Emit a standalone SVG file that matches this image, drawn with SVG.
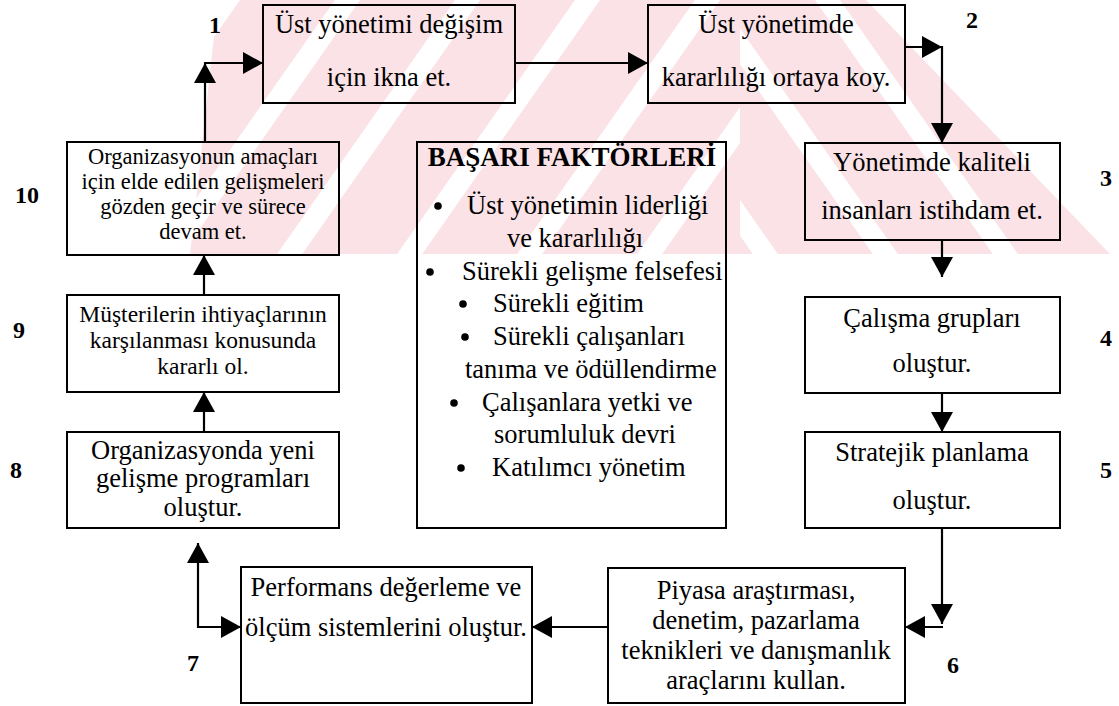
<svg xmlns="http://www.w3.org/2000/svg" width="1119" height="706" viewBox="0 0 1119 706">
  <defs>
    <style>
      .box{fill:none;stroke:#000;stroke-width:2}
      .t{font-family:"Liberation Serif","Times New Roman",serif;font-size:26.5px;fill:#000;text-anchor:middle}
      .ts{font-family:"Liberation Serif","Times New Roman",serif;font-size:23.5px;fill:#000;text-anchor:middle}
      .tx{font-family:"Liberation Serif","Times New Roman",serif;font-size:22.5px;fill:#000;text-anchor:middle}
      .tl{font-family:"Liberation Serif","Times New Roman",serif;font-size:26.5px;fill:#000}
      .hd{font-family:"Liberation Serif","Times New Roman",serif;font-size:27px;font-weight:bold;fill:#000;text-anchor:middle}
      .num{font-family:"Liberation Serif","Times New Roman",serif;font-size:24px;font-weight:bold;fill:#000;text-anchor:middle}
      .ln{fill:none;stroke:#000;stroke-width:2.2;marker-end:url(#ah)}
      .dot{fill:#000}
    </style>
    <marker id="ah" markerUnits="userSpaceOnUse" markerWidth="20" markerHeight="22" refX="20" refY="11" orient="auto" viewBox="0 0 20 22">
      <path d="M0,0 L20,11 L0,22 Z" fill="#000"/>
    </marker>
    <pattern id="wmL" patternUnits="userSpaceOnUse" width="120" height="20" patternTransform="skewX(-35)">
      <rect width="95" height="20" fill="#fbe2e6"/>
    </pattern>
    <pattern id="wmR" patternUnits="userSpaceOnUse" width="120" height="20" patternTransform="skewX(35)">
      <rect width="95" height="20" fill="#fbe2e6"/>
    </pattern>
  </defs>

  <rect width="1119" height="706" fill="#fff"/>

  <!-- faint striped background band -->
  <g id="watermark">
    <polygon points="218,0 740,0 740,254 190,254" fill="url(#wmL)"/>
    <polygon points="740,0 866,0 1110,254 740,254" fill="url(#wmR)"/>
  </g>

  <g id="connectors">
    <path class="ln" d="M205,142 V63"/>
    <path class="ln" d="M204,63 H263"/>
    <path class="ln" d="M515,63 H648"/>
    <path class="ln" d="M905,47 H942"/>
    <path class="ln" d="M942,46 V143"/>
    <path class="ln" d="M942,240 V277"/>
    <path class="ln" d="M942,393 V432"/>
    <path class="ln" d="M942,528 V624"/>
    <path class="ln" d="M943,627 H905"/>
    <path class="ln" d="M608,627 H532"/>
    <path class="ln" d="M198,628 V543"/>
    <path class="ln" d="M197,627 H241"/>
    <path class="ln" d="M204,432 V392"/>
    <path class="ln" d="M204,295 V255"/>
  </g>

  <g id="step1">
    <rect class="box" x="263" y="5" width="252" height="98"/>
    <text class="t" x="389" y="33">Üst yönetimi değişim</text>
    <text class="t" x="389" y="86">için ikna et.</text>
    <text class="num" x="215" y="33">1</text>
  </g>

  <g id="step2">
    <rect class="box" x="648" y="5" width="257" height="98"/>
    <text class="t" x="776" y="33">Üst yönetimde</text>
    <text class="t" x="776" y="86">kararlılığı ortaya koy.</text>
    <text class="num" x="972" y="28">2</text>
  </g>

  <g id="step3">
    <rect class="box" x="805" y="143" width="255" height="97"/>
    <text class="t" x="932" y="171">Yönetimde kaliteli</text>
    <text class="t" x="932" y="219">insanları istihdam et.</text>
    <text class="num" x="1106" y="186">3</text>
  </g>

  <g id="step4">
    <rect class="box" x="805" y="297" width="255" height="96"/>
    <text class="t" x="932" y="327">Çalışma grupları</text>
    <text class="t" x="932" y="372">oluştur.</text>
    <text class="num" x="1106" y="346">4</text>
  </g>

  <g id="step5">
    <rect class="box" x="805" y="432" width="255" height="96"/>
    <text class="t" x="932" y="461">Stratejik planlama</text>
    <text class="t" x="932" y="509">oluştur.</text>
    <text class="num" x="1106" y="478">5</text>
  </g>

  <g id="step6">
    <rect class="box" x="608" y="568" width="297" height="135"/>
    <text class="t" x="756" y="599">Piyasa araştırması,</text>
    <text class="t" x="756" y="629">denetim, pazarlama</text>
    <text class="t" x="756" y="659">teknikleri ve danışmanlık</text>
    <text class="t" x="756" y="689">araçlarını kullan.</text>
    <text class="num" x="953" y="673">6</text>
  </g>

  <g id="step7">
    <rect class="box" x="241" y="567" width="291" height="136"/>
    <text class="t" x="386" y="596">Performans değerleme ve</text>
    <text class="t" x="386" y="636">ölçüm sistemlerini oluştur.</text>
    <text class="num" x="193" y="671">7</text>
  </g>

  <g id="step8">
    <rect class="box" x="67" y="432" width="272" height="96"/>
    <text class="t" x="203" y="459">Organizasyonda yeni</text>
    <text class="t" x="203" y="487">gelişme programları</text>
    <text class="t" x="203" y="516">oluştur.</text>
    <text class="num" x="16" y="478">8</text>
  </g>

  <g id="step9">
    <rect class="box" x="67" y="295" width="272" height="97"/>
    <text class="ts" x="203" y="322">Müşterilerin ihtiyaçlarının</text>
    <text class="ts" x="203" y="348">karşılanması konusunda</text>
    <text class="ts" x="203" y="374">kararlı ol.</text>
    <text class="num" x="19" y="338">9</text>
  </g>

  <g id="step10">
    <rect class="box" x="67" y="142" width="272" height="113"/>
    <text class="tx" x="203" y="164">Organizasyonun amaçları</text>
    <text class="tx" x="203" y="189">için elde edilen gelişmeleri</text>
    <text class="tx" x="203" y="214">gözden geçir ve sürece</text>
    <text class="tx" x="203" y="239">devam et.</text>
    <text class="num" x="27" y="203">10</text>
  </g>

  <g id="success-factors">
    <rect class="box" x="417" y="142" width="309" height="386"/>
    <text class="hd" x="572" y="166">BAŞARI FAKTÖRLERİ</text>
    <circle class="dot" cx="438" cy="206" r="3.8"/>
    <text class="tl" x="467" y="214">Üst yönetimin liderliği</text>
    <text class="t" x="575" y="247">ve kararlılığı</text>
    <circle class="dot" cx="430" cy="272" r="3.8"/>
    <text class="tl" x="462" y="280">Sürekli gelişme felsefesi</text>
    <circle class="dot" cx="463" cy="304" r="3.8"/>
    <text class="tl" x="493" y="312">Sürekli eğitim</text>
    <circle class="dot" cx="465" cy="337" r="3.8"/>
    <text class="tl" x="493" y="345">Sürekli çalışanları</text>
    <text class="tl" x="465" y="378">tanıma ve ödüllendirme</text>
    <circle class="dot" cx="454" cy="403" r="3.8"/>
    <text class="tl" x="482" y="411">Çalışanlara yetki ve</text>
    <text class="tl" x="494" y="443">sorumluluk devri</text>
    <circle class="dot" cx="461" cy="468" r="3.8"/>
    <text class="tl" x="492" y="476">Katılımcı yönetim</text>
  </g>
</svg>
